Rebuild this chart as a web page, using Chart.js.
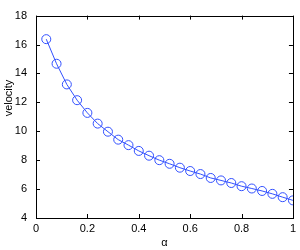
<!DOCTYPE html>
<html>
<head>
<meta charset="utf-8">
<script src="https://cdn.jsdelivr.net/npm/chart.js@4"></script>
<style>
  html, body { margin: 0; padding: 0; background: #fff; }
  #wrap { width: 300px; height: 250px; }
</style>
</head>
<body>
<div id="wrap"><canvas id="velocityChart" width="300" height="250"></canvas></div>
<script>
/*
 * velocity vs alpha
 * */

var alphaValues = [0.04, 0.08, 0.12, 0.16, 0.20, 0.24, 0.28, 0.32, 0.36, 0.40,
                   0.44, 0.48, 0.52, 0.56, 0.60, 0.64, 0.68, 0.72, 0.76, 0.80,
                   0.84, 0.88, 0.92, 0.96, 1.00];

var velocityValues = [16.37, 14.67, 13.24, 12.15, 11.27, 10.53, 9.97, 9.42, 9.04, 8.64,
                      8.31, 8.00, 7.75, 7.48, 7.25, 7.04, 6.77, 6.60, 6.42, 6.20,
                      6.04, 5.87, 5.67, 5.44, 5.22];

var xTicks = [0, 0.2, 0.4, 0.6, 0.8, 1];
var yTicks = [4, 6, 8, 10, 12, 14, 16, 18];

var yTitle = 'velocity';

function buildPoints(xs, ys){
    var pts = [];
    for (var i = 0; i < xs.length; i++) {
        pts.push({x: xs[i], y: ys[i]});
    }
    return pts;
}

var font = {family: "'Liberation Sans', Arial, sans-serif", size: 11};

// caixa estilo matlab com ticks para dentro
var boxPlugin = {
    id: 'boxTicks',
    afterDraw: function (chart) {
        var ctx = chart.ctx;
        var a = chart.chartArea;
        var xs = chart.scales.x;
        var ys = chart.scales.y;
        var len = 4;
        ctx.save();
        ctx.strokeStyle = '#000';
        ctx.lineWidth = 1;
        ctx.strokeRect(Math.round(a.left) + 0.5, Math.round(a.top) + 0.5,
                       Math.round(a.right - a.left), Math.round(a.bottom - a.top));
        ctx.beginPath();
        xTicks.forEach(function (v) {
            var px = Math.round(xs.getPixelForValue(v)) + 0.5;
            ctx.moveTo(px, a.bottom); ctx.lineTo(px, a.bottom - len);
            ctx.moveTo(px, a.top); ctx.lineTo(px, a.top + len);
        });
        yTicks.forEach(function (v) {
            var py = Math.round(ys.getPixelForValue(v)) + 0.5;
            ctx.moveTo(a.left, py); ctx.lineTo(a.left + len, py);
            ctx.moveTo(a.right, py); ctx.lineTo(a.right - len, py);
        });
        ctx.stroke();

        // titulo do eixo y
        ctx.translate(9, 98);
        ctx.rotate(-Math.PI / 2);
        ctx.fillStyle = '#000';
        ctx.font = font.size + 'px ' + font.family;
        ctx.textAlign = 'center';
        ctx.textBaseline = 'middle';
        ctx.fillText(yTitle, 0, 0);
        ctx.restore();
    }
};

var blue = 'rgb(50, 80, 255)';

var ctx = document.getElementById('velocityChart').getContext('2d');
var chart = new Chart(ctx, {
    type: 'scatter',
    data: {
        datasets: [{
            data: buildPoints(alphaValues, velocityValues),
            showLine: true,
            clip: 0,
            borderColor: blue,
            borderWidth: 1,
            pointStyle: 'circle',
            pointRadius: 4.5,
            pointBorderColor: blue,
            pointBorderWidth: 1,
            pointBackgroundColor: 'rgba(0,0,0,0)',
            tension: 0
        }]
    },
    options: {
        responsive: false,
        animation: false,
        layout: {padding: {top: 7, right: 4, left: 0, bottom: 0}},
        plugins: {legend: {display: false}, tooltip: {enabled: false}},
        scales: {
            x: {
                type: 'linear', min: 0, max: 1,
                afterBuildTicks: function (s) { s.ticks = xTicks.map(function (v) { return {value: v}; }); },
                afterFit: function (s) { s.height = 32; },
                grid: {display: false, drawTicks: false},
                border: {display: false},
                ticks: {color: '#000', font: font, padding: 4, maxRotation: 0,
                        callback: function (v) { return String(v); }},
                title: {display: true, text: 'α', color: '#000', font: font, padding: {top: 1, bottom: 0}}
            },
            y: {
                type: 'linear', min: 4, max: 18,
                afterBuildTicks: function (s) { s.ticks = yTicks.map(function (v) { return {value: v}; }); },
                afterFit: function (s) { s.width = 36; },
                grid: {display: false, drawTicks: false},
                border: {display: false},
                ticks: {color: '#000', font: font, padding: 9},
                title: {display: false}
            }
        }
    },
    plugins: [boxPlugin]
});
</script>
</body>
</html>
